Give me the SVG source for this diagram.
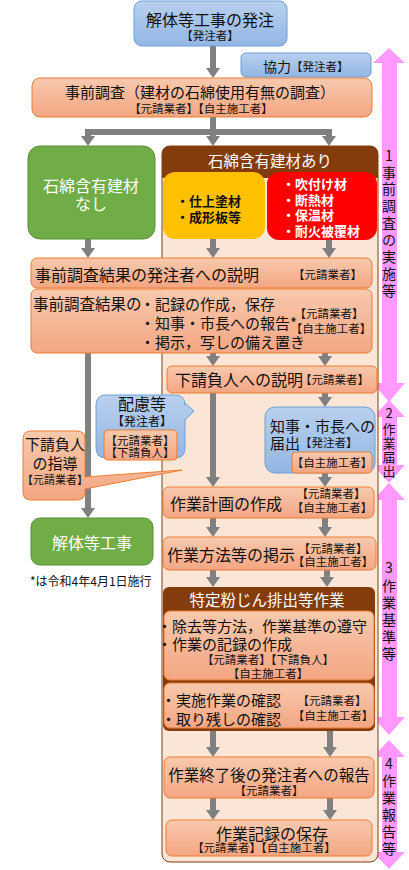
<svg xmlns="http://www.w3.org/2000/svg" width="409" height="870" viewBox="0 0 409 870">
<defs>
<linearGradient id="gOr" x1="0" y1="0" x2="0" y2="1"><stop offset="0" stop-color="#f8c9ad"/><stop offset="1" stop-color="#f4a683"/></linearGradient>
<linearGradient id="gBl" x1="0" y1="0" x2="0" y2="1"><stop offset="0" stop-color="#b9d0ef"/><stop offset="1" stop-color="#92b6e3"/></linearGradient>
<marker id="ah" markerUnits="userSpaceOnUse" markerWidth="10" markerHeight="14" viewBox="0 0 10 14" refX="4" refY="7" orient="auto"><path d="M0,0 L10,7 L0,14 z" fill="#808080"/></marker>
<style>
text{font-family:"Noto Sans CJK JP","Noto Sans",sans-serif;fill:#111;dominant-baseline:central}
.or{fill:url(#gOr);stroke:#ed7d31;stroke-width:1}
.bl{fill:url(#gBl);stroke:#6d9fd8;stroke-width:1}
.gr{fill:#70ad47;stroke:#5a8f38;stroke-width:1}
.c{text-anchor:middle}
.w{fill:#fff}
.s{font-size:11.5px}
.m{font-size:15px}
.l{font-size:16px}
.b{font-size:13px;font-weight:bold}
.ln{stroke:#808080;stroke-width:6;fill:none}
.ar{stroke:#808080;stroke-width:6;fill:none;marker-end:url(#ah)}
.pk{fill:#ff99ff}
.v{font-size:14px;text-anchor:middle}
</style>
</defs>

<!-- stage arrows (pink) -->
<g id="stages">
<path class="pk" d="M389,48 L405,63 L397,63 L397,383 L405,383 L389,402 L373,383 L382,383 L382,63 L373,63 Z"/>
<path class="pk" d="M389,400 L405,417 L397,417 L397,465 L405,465 L389,483 L373,465 L382,465 L382,417 L373,417 Z"/>
<path class="pk" d="M389,483 L405,500 L397,500 L397,717 L405,717 L389,735 L373,717 L382,717 L382,500 L373,500 Z"/>
<path class="pk" d="M389,740 L405,757 L397,757 L397,852 L405,852 L389,869 L373,852 L382,852 L382,757 L373,757 Z"/>
<text class="v" x="389 389 389 389 389 389 389 389 389" y="155 172 188 205 222 239 256 273 290">1事前調査の実施等</text>
<text class="v" x="389 389 389 389 389" y="412 428 442 456 470" style="font-size:13px">2作業届出</text>
<text class="v" x="389 389 389 389 389 389" y="567 585 602 619 636 653">3作業基準等</text>
<text class="v" x="389 389 389 389 389 389" y="763 780 797 814 831 848">4作業報告等</text>
</g>

<!-- container for asbestos present -->
<g id="container">
<rect x="162" y="146" width="216" height="716" rx="8" fill="#fbe5d6" stroke="#843c0c" stroke-width="1"/>
<path d="M162,178 V154 Q162,146 170,146 H370 Q378,146 378,154 V178 Z" fill="#843c0c"/>
<text class="c w" x="270" y="160" style="font-size:15.5px">石綿含有建材あり</text>
</g>

<!-- connectors -->
<g id="connectors">
<line class="ar" x1="213" y1="46" x2="213" y2="72"/>
<line class="ln" x1="213" y1="117" x2="213" y2="132"/>
<line class="ln" x1="85" y1="132" x2="332" y2="132"/>
<line class="ar" x1="88" y1="132" x2="88" y2="140"/>
<line class="ar" x1="213" y1="132" x2="213" y2="140"/>
<line class="ar" x1="329" y1="132" x2="329" y2="140"/>
<line class="ar" x1="88" y1="239" x2="88" y2="252"/>
<line class="ar" x1="213" y1="239" x2="213" y2="252"/>
<line class="ar" x1="329" y1="240" x2="329" y2="252"/>
<line class="ar" x1="213" y1="353" x2="213" y2="360"/>
<line class="ar" x1="325" y1="353" x2="325" y2="360"/>
<line class="ar" x1="88" y1="353" x2="88" y2="512"/>
<line class="ar" x1="213" y1="393" x2="213" y2="481"/>
<line class="ar" x1="325" y1="393" x2="325" y2="401"/>
<line class="ar" x1="325" y1="473" x2="325" y2="481"/>
<line class="ar" x1="213" y1="518" x2="213" y2="531"/>
<line class="ar" x1="325" y1="518" x2="325" y2="531"/>
<line class="ar" x1="213" y1="570" x2="213" y2="581"/>
<line class="ar" x1="327" y1="570" x2="327" y2="581"/>
<line class="ar" x1="213" y1="731" x2="213" y2="751"/>
<line class="ar" x1="330" y1="731" x2="330" y2="751"/>
<line class="ar" x1="213" y1="798" x2="213" y2="814"/>
<line class="ar" x1="330" y1="798" x2="330" y2="814"/>
</g>

<g id="order">
<rect class="bl" x="134" y="1" width="153" height="45" rx="8"/>
<text class="c l" x="210" y="19">解体等工事の発注</text>
<text class="c s" x="210" y="35">【発注者】</text>
</g>

<g id="cooperation">
<rect class="bl" x="241" y="53" width="130" height="24" rx="5"/>
<text x="263" y="66" style="font-size:14px">協力<tspan class="s">【発注者】</tspan></text>
</g>

<g id="survey">
<rect class="or" x="32" y="78" width="340" height="39" rx="8"/>
<text class="c m" x="200" y="91">事前調査（建材の石綿使用有無の調査）</text>
<text class="c s" x="201" y="108">【元請業者】【自主施工者】</text>
</g>

<g id="none">
<rect class="gr" x="28" y="146" width="127" height="93" rx="12"/>
<text class="c w l" x="91" y="185">石綿含有建材</text>
<text class="c w l" x="91" y="203">なし</text>
</g>

<g id="level3">
<rect x="163" y="172" width="102" height="67" rx="12" fill="#ffc000"/>
<text class="b" x="176" y="200">・仕上塗材</text>
<text class="b" x="176" y="216">・成形板等</text>
</g>

<g id="level12">
<rect x="267" y="172" width="110" height="68" rx="12" fill="#ff0000"/>
<text class="b w" x="282" y="183">・吹付け材</text>
<text class="b w" x="282" y="199">・断熱材</text>
<text class="b w" x="282" y="214">・保温材</text>
<text class="b w" x="282" y="230">・耐火被覆材</text>
</g>

<g id="explain">
<rect class="or" x="31" y="258" width="341" height="30" rx="6"/>
<text class="l" x="35" y="274">事前調査結果の発注者への説明</text>
<text class="s" x="293" y="274">【元請業者】</text>
</g>

<g id="record">
<rect class="or" x="31" y="289" width="341" height="64" rx="6"/>
<text x="33" y="303" style="font-size:15.5px">事前調査結果の</text>
<text class="m" x="140" y="303">・記録の作成，保存</text>
<text class="m" x="140" y="322">・知事・市長への報告*</text>
<text class="m" x="140" y="341">・掲示，写しの備え置き</text>
<text class="c s" x="329" y="313">【元請業者】</text>
<text class="c s" x="331" y="328">【自主施工者】</text>
</g>

<g id="subexplain">
<rect class="or" x="167" y="366" width="210" height="27" rx="5"/>
<text class="l" x="175" y="379">下請負人への説明</text>
<text class="s" x="300" y="379">【元請業者】</text>
</g>

<g id="consideration">
<path class="bl" d="M106,395 H175 Q185,395 185,405 V403 L194,411 L185,420 V448 Q185,458 175,458 H106 Q96,458 96,448 V405 Q96,395 106,395 Z"/>
<text class="c l" x="142" y="403">配慮等</text>
<text class="c" x="142" y="420" style="font-size:12px">【発注者】</text>
<rect class="or" x="104" y="430" width="73" height="30" rx="4"/>
<text class="c s" x="140" y="440">【元請業者】</text>
<text class="c s" x="140" y="452">【下請負人】</text>
</g>

<g id="guidance">
<path class="or" d="M31,431 H77 Q85,431 85,439 V477 L182,470 L85,489 V492 Q85,500 77,500 H31 Q23,500 23,492 V439 Q23,431 31,431 Z"/>
<text class="c m" x="55" y="443">下請負人</text>
<text class="c m" x="55" y="462">の指導</text>
<text class="c" x="55" y="479" style="font-size:11px">【元請業者】</text>
</g>

<g id="notify">
<rect class="bl" x="265" y="407" width="110" height="66" rx="10"/>
<text class="m" x="270" y="425">知事・市長への</text>
<text class="m" x="270" y="442">届出<tspan class="s">【発注者】</tspan></text>
<rect class="or" x="292" y="452" width="80" height="21" rx="4"/>
<text class="c s" x="332" y="462">【自主施工者】</text>
</g>

<g id="demolition">
<rect class="gr" x="31" y="518" width="122" height="47" rx="9"/>
<text class="c w l" x="92" y="542">解体等工事</text>
</g>

<g id="note">
<text x="30" y="580" style="font-size:12px">*は令和4年4月1日施行</text>
</g>

<g id="plan">
<rect class="or" x="163" y="487" width="211" height="31" rx="6"/>
<text class="l" x="170" y="503">作業計画の作成</text>
<text class="c s" x="331" y="493">【元請業者】</text>
<text class="c s" x="332" y="507">【自主施工者】</text>
</g>

<g id="posting">
<rect class="or" x="163" y="537" width="213" height="33" rx="6"/>
<text class="l" x="167" y="554">作業方法等の掲示</text>
<text class="c s" x="333" y="548">【元請業者】</text>
<text class="c s" x="333" y="561">【自主施工者】</text>
</g>

<g id="work">
<rect x="163" y="587" width="212" height="144" rx="6" fill="#843c0c"/>
<text class="c w" x="267" y="599" style="font-size:15.5px">特定粉じん排出等作業</text>
<rect class="or" x="164" y="611" width="210" height="69" rx="6"/>
<text class="m" x="157" y="625">・除去等方法，作業基準の遵守</text>
<text class="m" x="157" y="643">・作業の記録の作成</text>
<text class="c s" x="268" y="659">【元請業者】【下請負人】</text>
<text class="c s" x="268" y="673">【自主施工者】</text>
<rect class="or" x="164" y="683" width="210" height="45" rx="6"/>
<text class="m" x="161" y="699">・実施作業の確認</text>
<text class="m" x="161" y="718">・取り残しの確認</text>
<text class="c s" x="332" y="700">【元請業者】</text>
<text class="c s" x="333" y="715">【自主施工者】</text>
</g>

<g id="report">
<rect class="or" x="164" y="757" width="210" height="41" rx="6"/>
<text class="c" x="269" y="774" style="font-size:15.5px">作業終了後の発注者への報告</text>
<text class="c s" x="269" y="790">【元請業者】</text>
</g>

<g id="keep">
<rect class="or" x="166" y="820" width="206" height="36" rx="6"/>
<text class="c l" x="272" y="833">作業記録の保存</text>
<text class="c s" x="264" y="847">【元請業者】【自主施工者】</text>
</g>
</svg>
